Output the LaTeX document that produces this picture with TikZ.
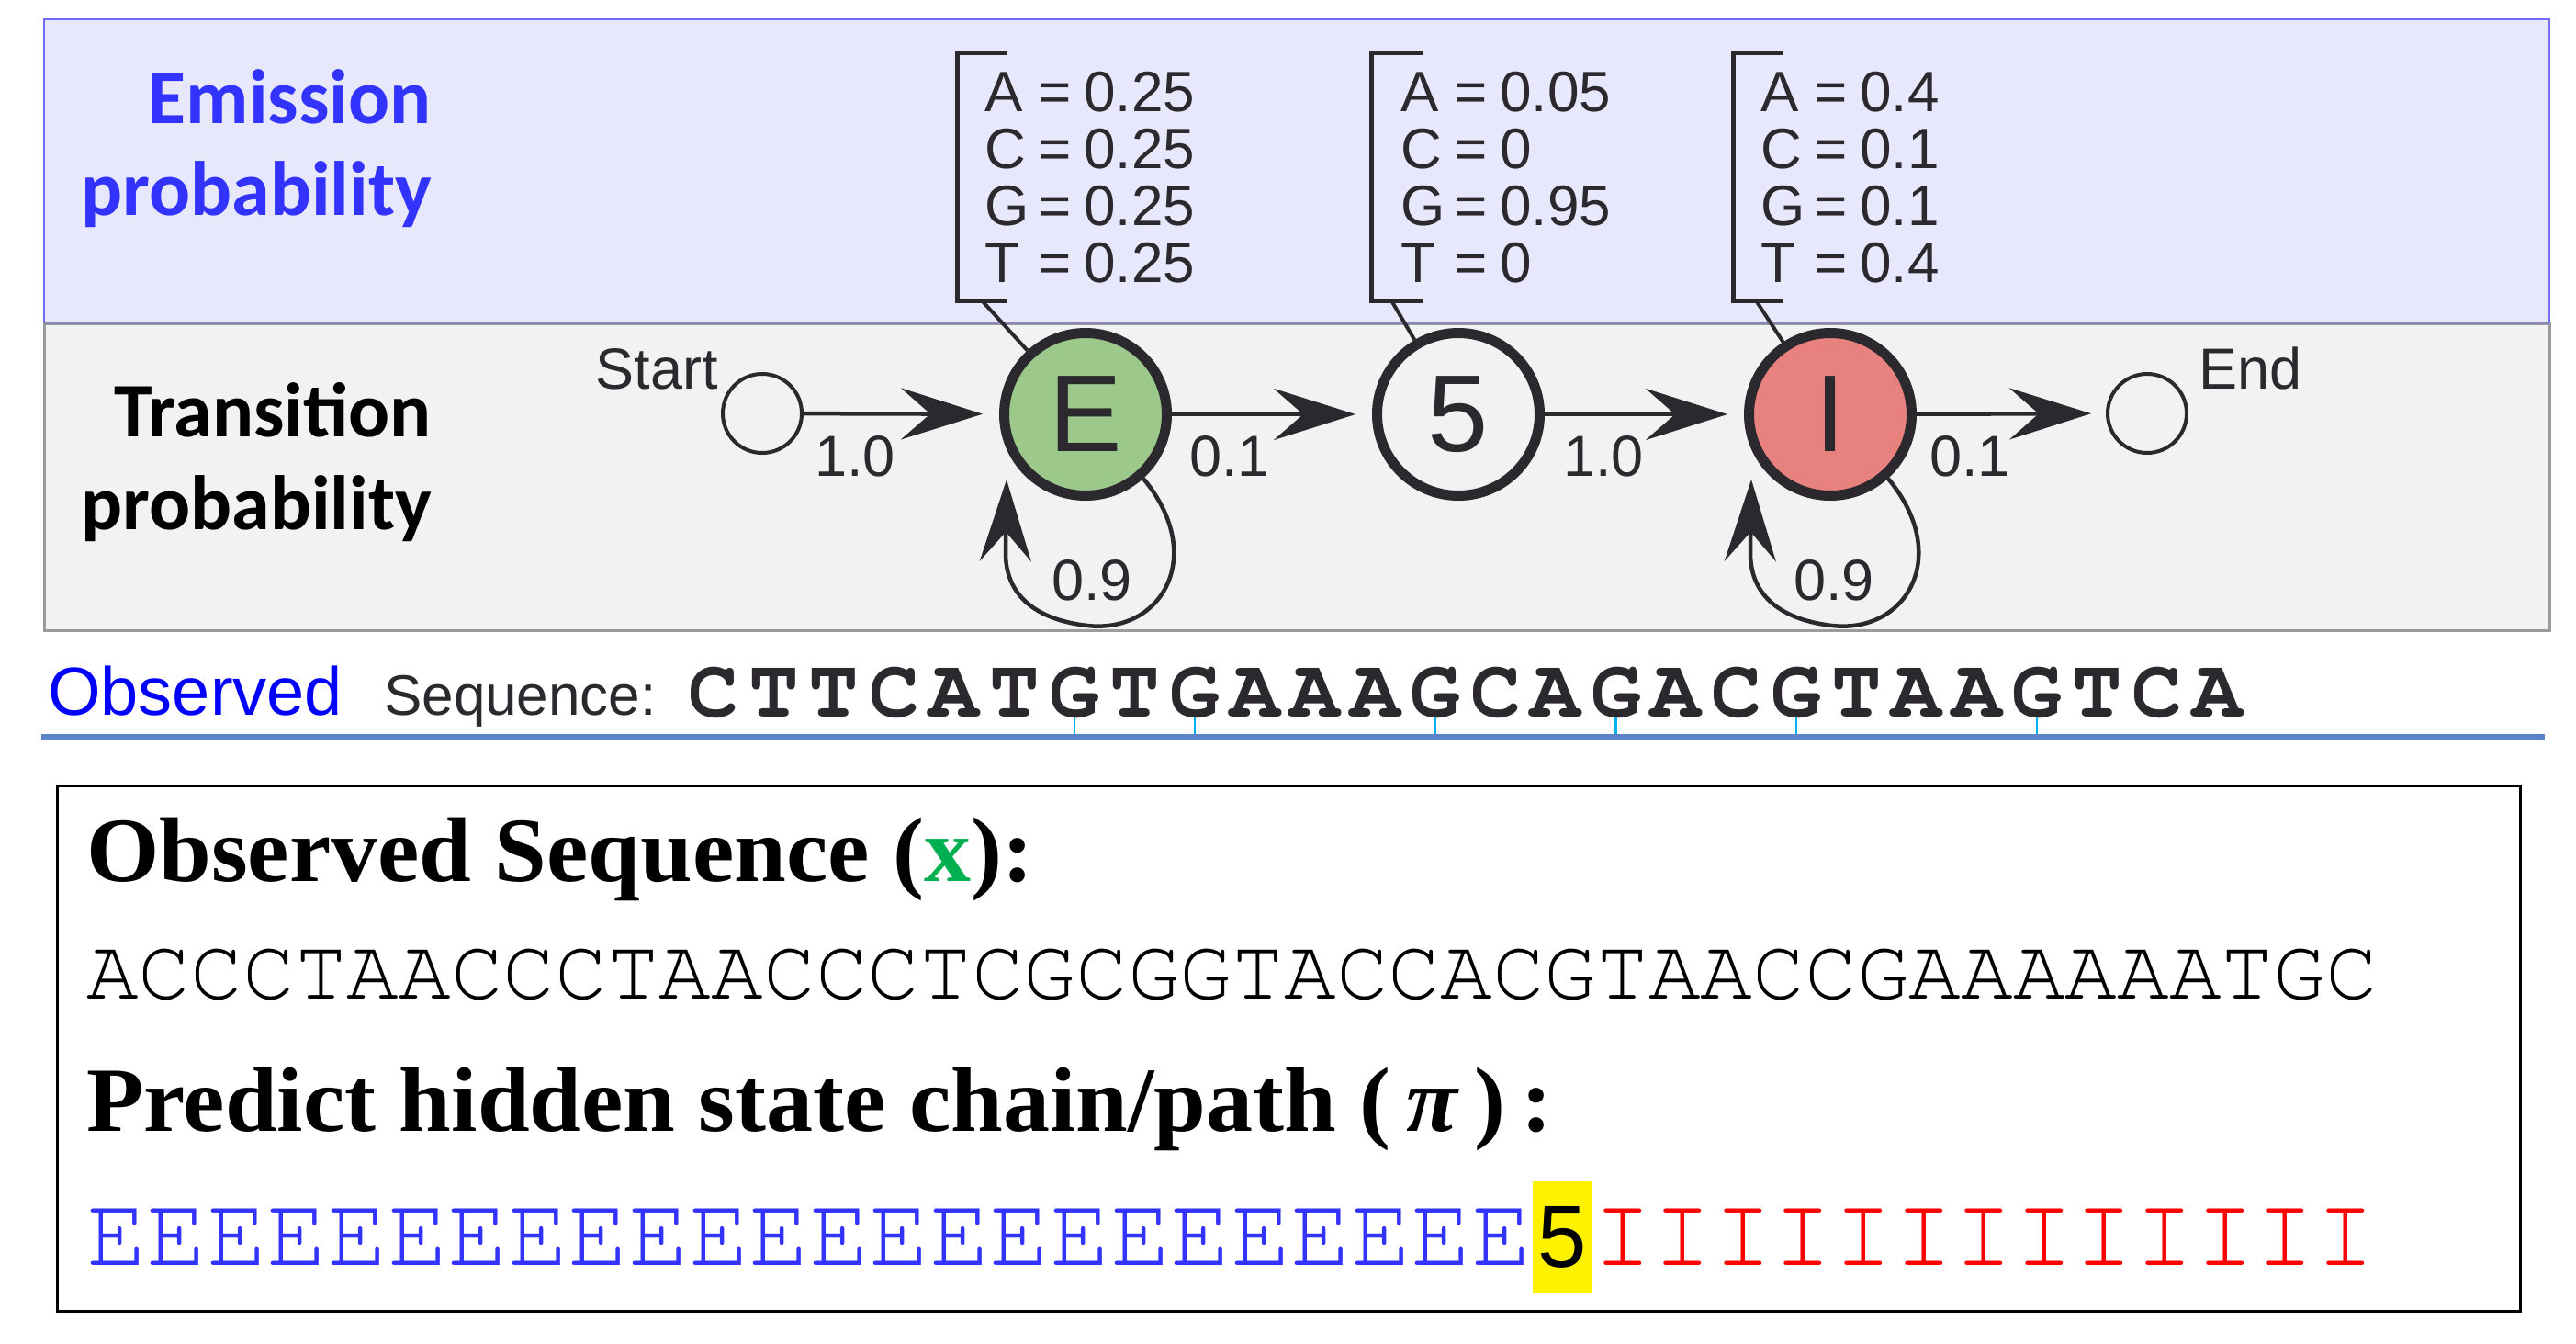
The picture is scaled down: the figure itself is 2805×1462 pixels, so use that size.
\documentclass[tikz,border=0pt]{standalone}
\usepackage{fontspec}
\setmainfont{Liberation Sans}
\newfontfamily\calfont{Carlito}
\newfontfamily\serfont{Liberation Serif}[FakeStretch=1.02]
\newfontfamily\courfont{texgyrecursor}[Extension=.otf,UprightFont=*-regular,BoldFont=*-bold]
\usetikzlibrary{arrows.meta}
\newcommand\fsz[1]{\fontsize{#1}{#1}\selectfont}
\newcommand\emrow[2]{\hbox{\makebox[58pt][l]{#1}=\hspace{14pt}#2}}
\newcommand\embox[4]{\vtop{\emrow{A}{#1}\emrow{C}{#2}\emrow{G}{#3}\emrow{T}{#4}}}
\definecolor{panelA}{RGB}{232,232,252}
\definecolor{panelAline}{RGB}{110,110,250}
\definecolor{panelB}{RGB}{242,242,242}
\definecolor{panelBline}{RGB}{155,155,155}
\definecolor{ink}{RGB}{43,41,46}
\definecolor{egreen}{RGB}{156,201,139}
\definecolor{ired}{RGB}{232,130,126}
\definecolor{emisblue}{RGB}{51,51,255}
\definecolor{seqline}{RGB}{91,131,198}
\definecolor{tickc}{RGB}{0,176,240}
\definecolor{xgreen}{RGB}{0,176,80}
\begin{document}
\begin{tikzpicture}[x=1pt,y=-1pt,
  state/.style={circle, draw=ink, line width=11pt, minimum size=177pt, inner sep=0pt, font=\fsz{119}, text=ink},
  endpt/.style={circle, draw=ink, line width=4pt, minimum size=86pt, inner sep=0pt},
  lbl/.style={font=\fsz{63}, text=ink, inner sep=0pt, anchor=base west},
  trans/.style={draw=ink, line width=4.5pt, -{Stealth[length=89pt, width=56pt, inset=32pt]}},
  emtext/.style={font=\fsz{62}, text=ink, inner sep=0pt, anchor=base west},
  bracket/.style={draw=ink, line width=5pt},
  emline/.style={draw=ink, line width=4pt},
  sidelbl/.style={anchor=base east, inner sep=0pt, font=\calfont\bfseries\fsz{84}},
  seqch/.style={anchor=base, inner sep=0pt, font=\courfont\bfseries\fsz{91}, text=ink},
  bold/.style={anchor=base west, inner sep=0pt, font=\serfont\bfseries\fsz{100}, text=black},
  mono/.style={anchor=base west, inner sep=0pt, font=\courfont\fsz{94.5}, text=black}]
\useasboundingbox (0,0) rectangle (2805,1462);
\fill[white] (0,0) rectangle (2805,1462);
% panels
\draw[fill=panelA, draw=panelAline, line width=2.5pt] (48,21) rectangle (2776,352);
\draw[fill=panelB, draw=panelBline, line width=3pt] (48,352) rectangle (2776,686);
\draw[draw={rgb,255:red,135;green,135;blue,185}, line width=2.5pt] (48,352) -- (2776,352);
% side labels
\node[sidelbl, text=emisblue] (em1) at (470,134) {Emission};
\node[sidelbl, text=emisblue] (em2) at (470,234) {probability};
\node[sidelbl, text=black] (tr1) at (470,475) {Transition};
\node[sidelbl, text=black] (tr2) at (470,576) {probability};
% states
\node[endpt] (S) at (830,450) {};
\node[state, fill=egreen] (E) at (1182,451) {E};
\node[state] (F) at (1588,451) {5};
\node[state, fill=ired] (I) at (1993,451) {I};
\node[endpt] (N) at (2338,450) {};
\node[lbl, anchor=base east] (st) at (782,423) {Start};
\node[lbl] (en) at (2394,423) {End};
% transitions
\draw[trans, shorten >=18pt] (S) -- (E);
\draw[trans, shorten >=18pt] (E) -- (F);
\draw[trans, shorten >=18pt] (F) -- (I);
\draw[trans, shorten >=16pt] (I) -- (N);
\node[lbl] (t1) at (887,518) {1.0};
\node[lbl] (t2) at (1295,518) {0.1};
\node[lbl] (t3) at (1702,518) {1.0};
\node[lbl] (t4) at (2101,518) {0.1};
% self loops
\coordinate (Etip) at (1096,522);
\coordinate (Itip) at (1907,522);
\draw[trans] (E.-48) .. controls (1315,605) and (1265,690) .. (1184,681)
   .. controls (1124,674) and (1094,645) .. (1095,600) -- (Etip);
\draw[trans] (I.-48) .. controls (2126,605) and (2076,690) .. (1995,681)
   .. controls (1935,674) and (1905,645) .. (1906,600) -- (Itip);
\node[lbl] (l1) at (1145,653) {0.9};
\node[lbl] (l2) at (1953,653) {0.9};
% emission boxes
\node[emtext] (eE) at (1072,121) {\embox{0.25}{0.25}{0.25}{0.25}};
\node[emtext] (e5) at (1525,121) {\embox{0.05}{0}{0.95}{0}};
\node[emtext] (eI) at (1917,121) {\embox{0.4}{0.1}{0.1}{0.4}};
\draw[bracket] (1097,57) -- (1042,57) -- (1042,327) -- (1097,327);
\draw[bracket] (1549,57) -- (1493,57) -- (1493,327) -- (1549,327);
\draw[bracket] (1942,57) -- (1887,57) -- (1887,327) -- (1942,327);
\coordinate (bE) at (1069,327);
\coordinate (b5) at (1515,327);
\coordinate (bI) at (1912,327);
\draw[emline] (bE) -- (E);
\draw[emline] (b5) -- (F);
\draw[emline] (bI) -- (I);
% observed sequence row
\node[anchor=base west, inner sep=0pt, text=blue, font=\fsz{74}] (obs) at (52,778) {Observed};
\node[anchor=base west, inner sep=0pt, text=ink, font=\fsz{62}] (seqlbl) at (418,778) {Sequence:};
\foreach \c [count=\i from 0] in {C,T,T,C,A,T,G,T,G,A,A,A,G,C,A,G,A,C,G,T,A,A,G,T,C,A}
  \node[seqch] (s\i) at ({777+65.5*\i},780) {\c};
\coordinate (la) at (45,802);
\coordinate (lb) at (2771,802);
\foreach \i in {6,8,12,15,18,22}
  \draw[tickc, line width=2.5pt] (s\i.south) -- (s\i.south |- la);
\draw[seqline, line width=7pt] (la) -- (lb);
% bottom box
\draw[black, line width=3pt] (62,855) rectangle (2744,1427);
\node[bold] (h1) at (94,959) {Observed Sequence (\textcolor{xgreen}{x}):};
\node[mono] (acc) at (94,1087) {ACCCTAACCCTAACCCTCGCGGTACCACGTAACCGAAAAAATGC};
\node[bold] (h2) at (94,1231) {Predict hidden state chain/path (\,\textit{π}\,)\,:};
\node[mono, font=\courfont\fsz{109.3}, text=emisblue] (ee) at (94,1377) {EEEEEEEEEEEEEEEEEEEEEEEE};
\node[fill=yellow, inner sep=0pt, minimum width=64pt, minimum height=122pt, font=\fsz{96}, text=black] (five) at (1701,1347) {5};
\node[mono, font=\courfont\fsz{109.3}, text=red] (ii) at (1734,1377) {IIIIIIIIIIIII};
\end{tikzpicture}
\end{document}
